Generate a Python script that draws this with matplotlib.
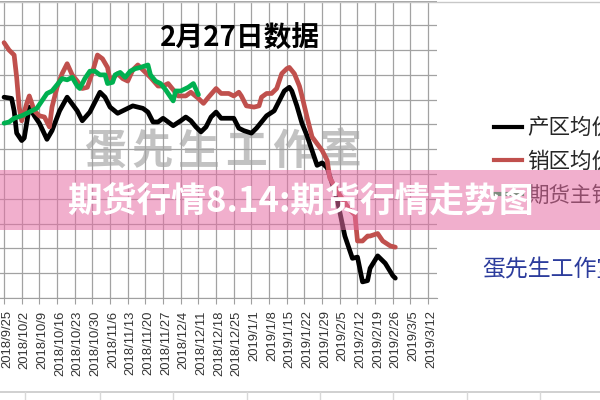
import pandas as pd
import matplotlib
matplotlib.use("Agg")
import matplotlib.pyplot as plt
from matplotlib.lines import Line2D
from matplotlib.patches import Rectangle
from matplotlib.transforms import ScaledTranslation

plt.rcParams['font.family'] = ['Noto Sans CJK SC', 'DejaVu Sans']

# ---------------- data ----------------
chan_dates = ["2018-09-25", "2018-09-28", "2018-09-29", "2018-09-30", "2018-10-02", "2018-10-03",
              "2018-10-05", "2018-10-07", "2018-10-09", "2018-10-12", "2018-10-14", "2018-10-17",
              "2018-10-20", "2018-10-24", "2018-10-26", "2018-10-29", "2018-11-02", "2018-11-04",
              "2018-11-06", "2018-11-09", "2018-11-11", "2018-11-13", "2018-11-15", "2018-11-17",
              "2018-11-19", "2018-11-21", "2018-11-23", "2018-11-25", "2018-11-27", "2018-11-29",
              "2018-12-01", "2018-12-04", "2018-12-06", "2018-12-08", "2018-12-10", "2018-12-12",
              "2018-12-14", "2018-12-16", "2018-12-18", "2018-12-20", "2018-12-23", "2018-12-25",
              "2018-12-27", "2018-12-29", "2019-01-01", "2019-01-03", "2019-01-05", "2019-01-07",
              "2019-01-10", "2019-01-12", "2019-01-14", "2019-01-16", "2019-01-17", "2019-01-19",
              "2019-01-21", "2019-01-23", "2019-01-25", "2019-01-27", "2019-01-29", "2019-01-31",
              "2019-02-04", "2019-02-07", "2019-02-10", "2019-02-12", "2019-02-14", "2019-02-16",
              "2019-02-17", "2019-02-20", "2019-02-23", "2019-02-26", "2019-02-27"]
chan_vals = [4.22, 4.21, 4.11, 3.93, 3.87, 3.89, 4.14, 4.07, 4.01, 3.88, 3.95, 4.11,
             4.22, 4.11, 4.03, 4.10, 4.26, 4.22, 4.14, 4.09, 4.11, 4.13, 4.15, 4.14,
             4.13, 4.10, 4.02, 4.02, 4.05, 4.02, 3.99, 4.03, 4.06, 4.03, 3.98, 3.94,
             3.98, 4.06, 4.10, 4.05, 4.05, 4.05, 3.97, 3.95, 3.93, 3.97, 4.02, 4.07,
             4.11, 4.19, 4.27, 4.30, 4.27, 4.15, 4.01, 3.91, 3.79, 3.67, 3.69, 3.65,
             3.39, 3.10, 2.92, 2.93, 2.73, 2.74, 2.84, 2.94, 2.88, 2.78, 2.76]

xiao_dates = ["2018-09-25", "2018-09-27", "2018-09-29", "2018-09-30", "2018-10-01", "2018-10-02",
              "2018-10-04", "2018-10-05", "2018-10-07", "2018-10-09", "2018-10-11", "2018-10-13",
              "2018-10-14", "2018-10-16", "2018-10-18", "2018-10-20", "2018-10-22", "2018-10-24",
              "2018-10-26", "2018-10-28", "2018-10-30", "2018-11-01", "2018-11-03", "2018-11-05",
              "2018-11-06", "2018-11-07", "2018-11-09", "2018-11-11", "2018-11-13", "2018-11-15",
              "2018-11-17", "2018-11-19", "2018-11-22", "2018-11-25", "2018-11-27", "2018-11-29",
              "2018-12-03", "2018-12-06", "2018-12-08", "2018-12-11", "2018-12-13", "2018-12-15",
              "2018-12-18", "2018-12-20", "2018-12-23", "2018-12-25", "2018-12-27", "2018-12-28",
              "2018-12-30", "2019-01-02", "2019-01-04", "2019-01-05", "2019-01-07", "2019-01-09",
              "2019-01-11", "2019-01-13", "2019-01-15", "2019-01-16", "2019-01-18", "2019-01-20",
              "2019-01-21", "2019-01-23", "2019-01-25", "2019-01-29", "2019-01-31", "2019-02-01",
              "2019-02-05", "2019-02-09", "2019-02-11", "2019-02-12", "2019-02-14", "2019-02-16",
              "2019-02-17", "2019-02-20", "2019-02-22", "2019-02-25", "2019-02-27"]
xiao_vals = [4.66, 4.60, 4.56, 4.38, 4.14, 4.03, 4.17, 4.23, 4.11, 4.07, 4.06, 3.98,
             4.14, 4.30, 4.41, 4.49, 4.40, 4.35, 4.29, 4.30, 4.42, 4.56, 4.53, 4.46,
             4.35, 4.37, 4.41, 4.37, 4.35, 4.44, 4.48, 4.44, 4.38, 4.31, 4.31, 4.33,
             4.23, 4.23, 4.26, 4.21, 4.17, 4.22, 4.29, 4.25, 4.25, 4.23, 4.26, 4.23,
             4.15, 4.14, 4.15, 4.22, 4.25, 4.25, 4.29, 4.41, 4.45, 4.46, 4.41, 4.31,
             4.23, 4.06, 3.90, 3.79, 3.71, 3.57, 3.43, 3.31, 3.27, 3.06, 3.06, 3.10,
             3.10, 3.12, 3.06, 3.02, 3.01]

qh_dates = ["2018-09-25", "2018-09-27", "2018-09-29", "2018-10-02", "2018-10-05", "2018-10-08",
            "2018-10-10", "2018-10-12", "2018-10-14", "2018-10-16", "2018-10-18", "2018-10-20",
            "2018-10-22", "2018-10-24", "2018-10-25", "2018-10-27", "2018-10-29", "2018-10-31",
            "2018-11-02", "2018-11-04", "2018-11-05", "2018-11-07", "2018-11-08", "2018-11-10",
            "2018-11-12", "2018-11-14", "2018-11-16", "2018-11-18", "2018-11-21", "2018-11-22",
            "2018-11-24", "2018-11-26", "2018-11-28", "2018-11-29", "2018-12-01", "2018-12-02",
            "2018-12-04", "2018-12-06", "2018-12-07", "2018-12-09", "2018-12-11"]
qh_vals = [4.01, 4.02, 4.05, 4.07, 4.10, 4.13, 4.19, 4.25, 4.27, 4.32, 4.37, 4.36,
           4.38, 4.31, 4.29, 4.37, 4.43, 4.43, 4.40, 4.40, 4.33, 4.34, 4.40, 4.42,
           4.38, 4.43, 4.45, 4.46, 4.48, 4.40, 4.35, 4.33, 4.28, 4.25, 4.19, 4.27,
           4.27, 4.29, 4.30, 4.33, 4.24]

series_names = ["产区均价", "销区均价", "期货主销区价"]
series_colors = ["#000000", "#c0504d", "#00b050"]

tick_start, tick_end = "2018-09-25", "2019-03-12"

# ---------------- figure ----------------
fig = plt.figure(figsize=(6, 4), dpi=100)
ax = fig.add_axes([-4.8 / 600, 102 / 400, 441.8 / 600, 297.5 / 400])

ticks = pd.date_range(tick_start, tick_end, freq="7D")
ax.set_xlim(ticks[0] - pd.Timedelta(days=3.5), ticks[-1] + pd.Timedelta(days=3.5))
ax.set_ylim(2.6, 5.0)
ax.set_yticks([2.6 + 0.2 * i for i in range(13)])
ax.set_xticks(ticks)
ax.tick_params(axis="y", left=False, labelleft=False)
ax.tick_params(axis="x", length=4, color="#a0a0a0", pad=5)
ax.set_xticklabels([f"{d.year}/{d.month}/{d.day}" for d in ticks], rotation=90,
                   family="Liberation Sans", fontsize=9.4, color="#333333")
# labels sit a little right of their gridlines in the original
shift = ScaledTranslation(3 / 100, 0, fig.dpi_scale_trans)
for lab in ax.get_xticklabels():
    lab.set_transform(lab.get_transform() + shift)
ax.grid(True, color="#a2a2a2", lw=0.9)
ax.set_axisbelow(True)
for s in ["top", "right", "left"]:
    ax.spines[s].set_visible(False)
ax.spines["bottom"].set_color("#a0a0a0")

# watermark behind lines
wm = "蛋先生工作室"
for i, ch in enumerate(wm):
    fig.text((105 + i * 47) / 600, 1 - 152 / 400, ch, fontsize=30, fontweight="bold",
             color="#b8b8b8", alpha=0.85, ha="center", va="center", zorder=0.5)

for dates, vals, col in [(chan_dates, chan_vals, series_colors[0]),
                         (xiao_dates, xiao_vals, series_colors[1]),
                         (qh_dates, qh_vals, series_colors[2])]:
    ax.plot(pd.to_datetime(dates), vals, color=col, lw=3.4,
            solid_joinstyle="round", solid_capstyle="round", zorder=3)
ax.set_zorder(1)
ax.patch.set_alpha(0)

# title inside plot
fig.text(240 / 600, 1 - 39 / 400, "2月27日数据", fontsize=20, fontweight="bold",
         ha="center", va="center", color="black", zorder=4)

# legend on the right
handles = [Line2D([], [], color=c, lw=3) for c in series_colors]
fig.legend(handles, series_names, loc="center left", bbox_to_anchor=(494 / 600, 1 - 162 / 400),
           frameon=False, fontsize=15.5, handlelength=1.3, handletextpad=0.25,
           labelspacing=0.55, borderpad=0, borderaxespad=0, labelcolor="#262626")

fig.text(482 / 600, 1 - 270 / 400, "蛋先生工作室", fontsize=16.5, color="#2c3c9c",
         ha="left", va="center")

# spreadsheet borders
fig.add_artist(Line2D([0, 1], [1 - 2 / 400, 1 - 2 / 400], color="#c8c8c8", lw=1))
fig.add_artist(Line2D([0, 1], [1 - 392 / 400, 1 - 392 / 400], color="#c8c8c8", lw=1.2))
for xp in [25, 100, 173, 247, 320, 393, 467, 540]:
    fig.add_artist(Line2D([xp / 600, xp / 600], [0, 1 - 392 / 400], color="#d8d8d8", lw=1))

# pink banner
fig.patches.append(Rectangle((0, 1 - 230 / 400), 1, 60 / 400, transform=fig.transFigure,
                             facecolor="#e76ea5", alpha=0.55, edgecolor="none", zorder=10))
fig.text(301 / 600, 1 - 201 / 400, "期货行情8.14:期货行情走势图", fontsize=25,
         fontweight="bold", color="white", ha="center", va="center", zorder=11)

fig.savefig("out.png", dpi=100)
